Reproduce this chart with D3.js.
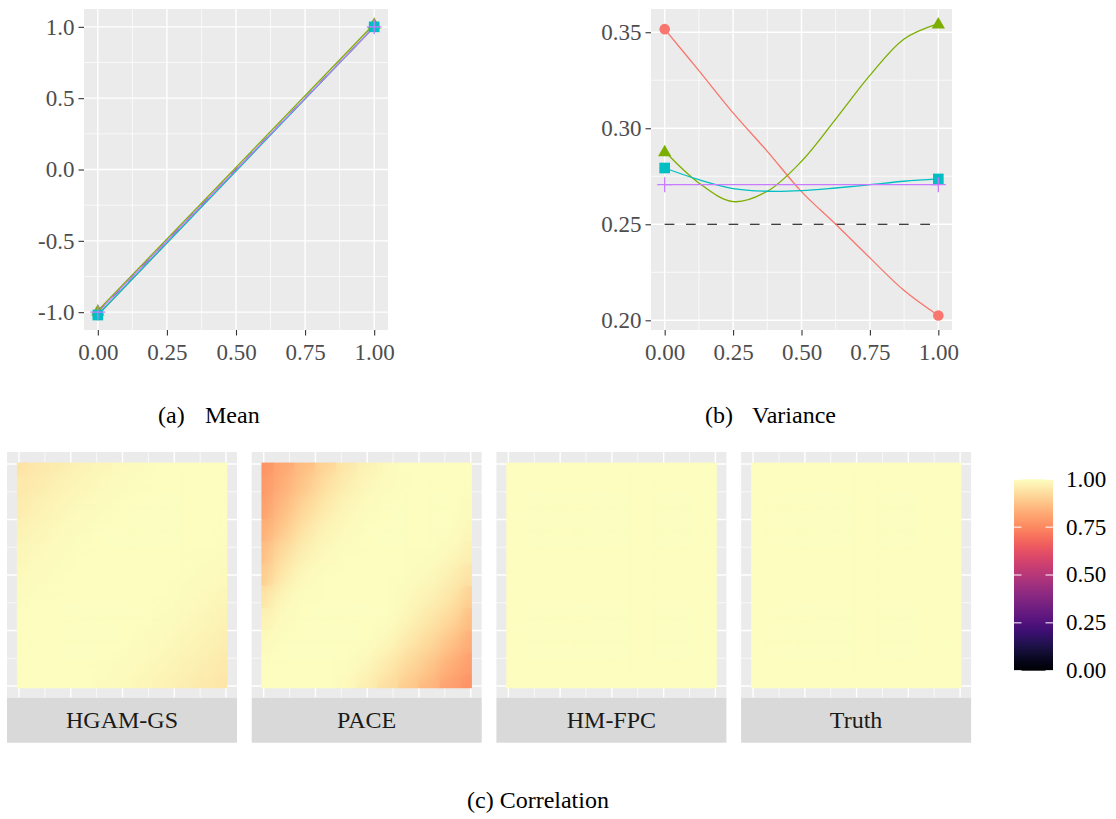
<!DOCTYPE html>
<html lang="en">
<head>
<meta charset="utf-8">
<title>Mean, variance and correlation</title>
<script src="https://cdn.jsdelivr.net/npm/d3@7"></script>
<style>
  body { margin: 0; background: #ffffff; }
</style>
</head>
<body>
<script>

// ---------- data ----------
var colours = ["#F8766D", "#7CAE00", "#00BFC4", "#C77CFF"];
var shapes = ["circle", "triangle", "square", "plus"];

// (a) mean
var meanT = [0, 1];
var meanRed = [-1.02, 1.00];
var meanGreen = [-0.99, 1.02];
var meanCyan = [-1.02, 1.00];
var meanPurple = [-1.00, 1.00];
var meanTruth = [-1.00, 1.00];

// (b) variance
var varT = [0, 0.125, 0.25, 0.375, 0.5, 0.625, 0.75, 0.875, 1];
var varRed = [0.3516, 0.330, 0.308, 0.288, 0.267, 0.250, 0.2325, 0.2155, 0.2025];
var varGreen = [0.288, 0.2715, 0.2618, 0.2672, 0.2828, 0.3048, 0.3275, 0.3465, 0.3545];
var varCyan = [0.2793, 0.2732, 0.2686, 0.2672, 0.2675, 0.2689, 0.2706, 0.2724, 0.2736];
var varPurple = [0.2706, 0.2706, 0.2706, 0.2706, 0.2706, 0.2706, 0.2706, 0.2706, 0.2706];
var varTruthT = [0, 1];
var varTruth = [0.25, 0.25];

// (c) correlation, rows from t = 1 (top) down to t = 0, columns s = 0 .. 1
var corrGrid = [0, 0.1, 0.2, 0.3, 0.4, 0.5, 0.6, 0.7, 0.8, 0.9, 1];
var corrHGAM = [
  [0.945, 0.955, 0.964, 0.973, 0.982, 0.990, 0.995, 1, 1, 1, 1],
  [0.955, 0.964, 0.973, 0.982, 0.990, 0.995, 1, 1, 1, 1, 1],
  [0.964, 0.973, 0.982, 0.990, 0.995, 1, 1, 1, 1, 1, 1],
  [0.973, 0.982, 0.990, 0.995, 1, 1, 1, 1, 1, 1, 1],
  [0.982, 0.990, 0.995, 1, 1, 1, 1, 1, 1, 1, 0.995],
  [0.990, 0.995, 1, 1, 1, 1, 1, 1, 1, 0.995, 0.990],
  [0.995, 1, 1, 1, 1, 1, 1, 1, 0.995, 0.990, 0.982],
  [1, 1, 1, 1, 1, 1, 1, 0.995, 0.990, 0.982, 0.975],
  [1, 1, 1, 1, 1, 1, 0.995, 0.990, 0.982, 0.975, 0.966],
  [1, 1, 1, 1, 1, 0.995, 0.990, 0.982, 0.975, 0.966, 0.957],
  [1, 1, 1, 1, 0.995, 0.990, 0.982, 0.975, 0.966, 0.957, 0.948]
];
var corrPACE = [
  [0.770, 0.815, 0.860, 0.910, 0.950, 0.975, 0.990, 1, 1, 1, 1],
  [0.785, 0.835, 0.885, 0.935, 0.968, 0.987, 0.995, 1, 1, 1, 1],
  [0.800, 0.860, 0.915, 0.960, 0.983, 0.993, 1, 1, 1, 1, 0.995],
  [0.830, 0.888, 0.948, 0.977, 0.990, 1, 1, 1, 1, 1, 0.985],
  [0.860, 0.930, 0.972, 0.990, 1, 1, 1, 1, 1, 0.990, 0.970],
  [0.890, 0.960, 0.990, 1, 1, 1, 1, 1, 0.990, 0.972, 0.945],
  [0.945, 0.985, 1, 1, 1, 1, 1, 0.990, 0.975, 0.950, 0.900],
  [0.975, 0.995, 1, 1, 1, 1, 1, 0.980, 0.952, 0.920, 0.860],
  [0.990, 1, 1, 1, 1, 1, 0.985, 0.956, 0.925, 0.875, 0.825],
  [1, 1, 1, 1, 1, 0.985, 0.960, 0.925, 0.885, 0.835, 0.795],
  [1, 1, 1, 1, 0.990, 0.965, 0.930, 0.890, 0.850, 0.800, 0.770]
];
var corrHMFPC = [
  [1, 1, 1, 1, 1, 1, 1, 1, 1, 1, 1], [1, 1, 1, 1, 1, 1, 1, 1, 1, 1, 1],
  [1, 1, 1, 1, 1, 1, 1, 1, 1, 1, 1], [1, 1, 1, 1, 1, 1, 1, 1, 1, 1, 1],
  [1, 1, 1, 1, 1, 1, 1, 1, 1, 1, 1], [1, 1, 1, 1, 1, 1, 1, 1, 1, 1, 1],
  [1, 1, 1, 1, 1, 1, 1, 1, 1, 1, 1], [1, 1, 1, 1, 1, 1, 1, 1, 1, 1, 1],
  [1, 1, 1, 1, 1, 1, 1, 1, 1, 1, 1], [1, 1, 1, 1, 1, 1, 1, 1, 1, 1, 1],
  [1, 1, 1, 1, 1, 1, 1, 1, 1, 1, 1]
];
var corrTruth = [
  [1, 1, 1, 1, 1, 1, 1, 1, 1, 1, 1], [1, 1, 1, 1, 1, 1, 1, 1, 1, 1, 1],
  [1, 1, 1, 1, 1, 1, 1, 1, 1, 1, 1], [1, 1, 1, 1, 1, 1, 1, 1, 1, 1, 1],
  [1, 1, 1, 1, 1, 1, 1, 1, 1, 1, 1], [1, 1, 1, 1, 1, 1, 1, 1, 1, 1, 1],
  [1, 1, 1, 1, 1, 1, 1, 1, 1, 1, 1], [1, 1, 1, 1, 1, 1, 1, 1, 1, 1, 1],
  [1, 1, 1, 1, 1, 1, 1, 1, 1, 1, 1], [1, 1, 1, 1, 1, 1, 1, 1, 1, 1, 1],
  [1, 1, 1, 1, 1, 1, 1, 1, 1, 1, 1]
];
var facetNames = ["HGAM-GS", "PACE", "HM-FPC", "Truth"];
var legendTicks = [0, 0.25, 0.5, 0.75, 1];

var xTicks = [0, 0.25, 0.5, 0.75, 1];
var xMinor = [0.125, 0.375, 0.625, 0.875];
var meanTicks = [-1, -0.5, 0, 0.5, 1];
var meanMinor = [-0.75, -0.25, 0.25, 0.75];
var varTicks = [0.20, 0.25, 0.30, 0.35];
var varMinor = [0.225, 0.275, 0.325];

// ---------- drawing ----------
var serif = "Liberation Serif";

var svg = d3.select("body").append("svg")
  .attr("width", 1116)
  .attr("height", 819);

var tickFont = 23;
var magma = d3.scaleSequential(d3.interpolateMagma).domain([0, 1]);

// ggplot prints a plain hyphen for negatives
function hyphen(fmt) {
  return function(v) { return fmt(v).replace("\u2212", "-"); };
}

function xyPanel(x0, x1, y0, y1, xdom, ydom, yMajor, yMinorTicks, yFmt) {
  var xs = d3.scaleLinear().domain(xdom).range([x0, x1]);
  var ys = d3.scaleLinear().domain(ydom).range([y1, y0]);
  var g = svg.append("g");

  g.append("rect")
    .attr("x", x0).attr("y", y0)
    .attr("width", x1 - x0).attr("height", y1 - y0)
    .attr("fill", "#EBEBEB");

  g.selectAll(".vminor").data(xMinor).enter().append("line")
    .attr("x1", xs).attr("x2", xs).attr("y1", y0).attr("y2", y1)
    .attr("stroke", "#fff").attr("stroke-width", 0.7);
  g.selectAll(".hminor").data(yMinorTicks).enter().append("line")
    .attr("y1", ys).attr("y2", ys).attr("x1", x0).attr("x2", x1)
    .attr("stroke", "#fff").attr("stroke-width", 0.7);
  g.selectAll(".vmajor").data(xTicks).enter().append("line")
    .attr("x1", xs).attr("x2", xs).attr("y1", y0).attr("y2", y1)
    .attr("stroke", "#fff").attr("stroke-width", 1.4);
  g.selectAll(".hmajor").data(yMajor).enter().append("line")
    .attr("y1", ys).attr("y2", ys).attr("x1", x0).attr("x2", x1)
    .attr("stroke", "#fff").attr("stroke-width", 1.4);

  var xAxis = d3.axisBottom(xs).tickValues(xTicks).tickFormat(d3.format(".2f"))
    .tickSize(5.5).tickPadding(8.5);
  var yAxis = d3.axisLeft(ys).tickValues(yMajor).tickFormat(hyphen(yFmt))
    .tickSize(5.5).tickPadding(4);

  var ax = g.append("g").attr("transform", "translate(0," + y1 + ")").call(xAxis);
  var ay = g.append("g").attr("transform", "translate(" + x0 + ",0)").call(yAxis);
  [ax, ay].forEach(function(a) {
    a.attr("font-family", null).attr("font-size", null);
    a.select(".domain").remove();
    a.selectAll("line").attr("stroke", "#333333").attr("stroke-width", 1.1);
    a.selectAll("text").attr("fill", "#4D4D4D")
      .attr("font-family", serif).attr("font-size", tickFont);
  });

  return { g: g, xs: xs, ys: ys };
}

function marker(g, shape, colour, x, y) {
  if (shape === "plus") {
    g.append("path")
      .attr("d", "M-7.5,0H7.5M0,-7.5V7.5")
      .attr("transform", "translate(" + x + "," + y + ")")
      .attr("stroke", colour).attr("stroke-width", 1.3).attr("fill", "none");
    return;
  }
  var type = shape === "circle" ? d3.symbolCircle : shape === "triangle" ? d3.symbolTriangle : d3.symbolSquare;
  var size = shape === "circle" ? 88 : shape === "triangle" ? 76 : 114;
  g.append("path")
    .attr("d", d3.symbol().type(type).size(size)())
    .attr("transform", "translate(" + x + "," + (shape === "triangle" ? y + 1 : y) + ")")
    .attr("fill", colour);
}

function drawSeries(p, tVals, yVals, colour, curve) {
  var pts = tVals.map(function(t, i) { return [t, yVals[i]]; });
  var line = d3.line()
    .x(function(d) { return p.xs(d[0]); })
    .y(function(d) { return p.ys(d[1]); })
    .curve(curve);
  p.g.append("path").datum(pts)
    .attr("d", line)
    .attr("fill", "none")
    .attr("stroke", colour)
    .attr("stroke-width", 1.3);
}

// ----- (a) mean -----
var pa = xyPanel(84, 388, 9, 330, [-0.05, 1.05], [-1.125, 1.125], meanTicks, meanMinor, d3.format(".1f"));
var truthLine = d3.line().x(function(d) { return pa.xs(d[0]); }).y(function(d) { return pa.ys(d[1]); });
pa.g.append("path").datum(meanT.map(function(t, i) { return [t, meanTruth[i]]; }))
  .attr("d", truthLine).attr("fill", "none").attr("stroke", "#000")
  .attr("stroke-width", 1.1).attr("stroke-dasharray", "9.7,11.6");
var meanSets = [meanRed, meanGreen, meanCyan, meanPurple];
meanSets.forEach(function(vals, k) {
  drawSeries(pa, meanT, vals, colours[k], d3.curveLinear);
});
meanSets.forEach(function(vals, k) {
  meanT.forEach(function(t, i) { marker(pa.g, shapes[k], colours[k], pa.xs(t), pa.ys(vals[i])); });
});

// ----- (b) variance -----
var pb = xyPanel(651, 952, 9, 330, [-0.05, 1.05], [0.19495, 0.3621], varTicks, varMinor, d3.format(".2f"));
var truthVar = d3.line().x(function(d) { return pb.xs(d[0]); }).y(function(d) { return pb.ys(d[1]); });
pb.g.append("path").datum(varTruthT.map(function(t, i) { return [t, varTruth[i]]; }))
  .attr("d", truthVar).attr("fill", "none").attr("stroke", "#000")
  .attr("stroke-width", 1.1).attr("stroke-dasharray", "9.7,11.6");
var varSets = [varRed, varGreen, varCyan, varPurple];
varSets.forEach(function(vals, k) {
  drawSeries(pb, varT, vals, colours[k], d3.curveCatmullRom.alpha(0.5));
});
varSets.forEach(function(vals, k) {
  var last = varT.length - 1;
  marker(pb.g, shapes[k], colours[k], pb.xs(varT[0]), pb.ys(vals[0]));
  marker(pb.g, shapes[k], colours[k], pb.xs(varT[last]), pb.ys(vals[last]));
});

// captions
function caption(x, y, str) {
  svg.append("text").attr("x", x).attr("y", y).text(str)
    .attr("fill", "#000")
    .attr("font-family", serif)
    .attr("font-size", 24);
}
caption(158, 423, "(a)");
caption(205, 423, "Mean");
caption(705, 423, "(b)");
caption(752, 423, "Variance");
caption(467, 808, "(c) Correlation");

// ----- (c) correlation heatmaps -----
var defs = svg.append("defs");
defs.append("filter").attr("id", "soft")
  .attr("x", "-10%").attr("y", "-10%").attr("width", "120%").attr("height", "120%")
  .append("feGaussianBlur").attr("stdDeviation", 8);

var corrSets = [corrHGAM, corrPACE, corrHMFPC, corrTruth];
var tRows = corrGrid.slice().reverse();
var half = 0.05, lo = -0.009, hi = 1.005;

corrSets.forEach(function(mat, i) {
  var left = 7 + i * 244.7;
  var top = 452, bottom = 697.7, width = 230;
  var xh = d3.scaleLinear().domain([0, 1]).range([left + 12, left + 219]);
  var yh = d3.scaleLinear().domain([0, 1]).range([686, 464]);
  var g = svg.append("g");

  g.append("rect").attr("x", left).attr("y", top)
    .attr("width", width).attr("height", bottom - top).attr("fill", "#EBEBEB");
  [[xMinor, 0.7], [xTicks, 1.4]].forEach(function(set) {
    g.selectAll(null).data(set[0]).enter().append("line")
      .attr("x1", xh).attr("x2", xh).attr("y1", top).attr("y2", bottom)
      .attr("stroke", "#fff").attr("stroke-width", set[1]);
    g.selectAll(null).data(set[0]).enter().append("line")
      .attr("y1", yh).attr("y2", yh).attr("x1", left).attr("x2", left + width)
      .attr("stroke", "#fff").attr("stroke-width", set[1]);
  });

  var cells = [];
  mat.forEach(function(row, r) {
    row.forEach(function(v, c) { cells.push({ s: corrGrid[c], t: tRows[r], v: v }); });
  });

  function tiles(sel) {
    sel.selectAll("rect").data(cells).enter().append("rect")
      .attr("x", function(d) { return xh(Math.max(d.s - half, lo)); })
      .attr("width", function(d) { return xh(Math.min(d.s + half, hi)) - xh(Math.max(d.s - half, lo)); })
      .attr("y", function(d) { return yh(Math.min(d.t + half, hi)); })
      .attr("height", function(d) { return yh(Math.max(d.t - half, lo)) - yh(Math.min(d.t + half, hi)); })
      .attr("fill", function(d) { return magma(d.v); })
      .attr("stroke", function(d) { return magma(d.v); })
      .attr("stroke-width", 0.5);
  }

  tiles(g.append("g"));

  var clipId = "clip" + i;
  defs.append("clipPath").attr("id", clipId).append("rect")
    .attr("x", xh(lo)).attr("y", yh(hi))
    .attr("width", xh(hi) - xh(lo)).attr("height", yh(lo) - yh(hi));
  var soft = g.append("g").attr("clip-path", "url(#" + clipId + ")")
    .append("g").attr("filter", "url(#soft)");
  tiles(soft);

  // strip
  g.append("rect").attr("x", left).attr("y", bottom)
    .attr("width", width).attr("height", 45).attr("fill", "#D9D9D9");
  g.append("text").attr("x", left + width / 2).attr("y", 728)
    .attr("text-anchor", "middle").attr("fill", "#1A1A1A")
    .attr("font-family", serif).attr("font-size", 24)
    .text(facetNames[i]);
});

// colour bar legend
var legY = d3.scaleLinear().domain([0, 1]).range([670.7, 479.3]);
var grad = defs.append("linearGradient").attr("id", "magmaBar")
  .attr("x1", 0).attr("y1", 1).attr("x2", 0).attr("y2", 0);
d3.range(0, 1.0001, 0.05).forEach(function(v) {
  grad.append("stop").attr("offset", v).attr("stop-color", magma(v));
});
svg.append("rect")
  .attr("x", 1014).attr("y", legY(1))
  .attr("width", 39).attr("height", legY(0) - legY(1))
  .attr("fill", "url(#magmaBar)");
var lg = svg.append("g");
lg.selectAll(".lt1").data(legendTicks).enter().append("line")
  .attr("x1", 1014).attr("x2", 1021.5).attr("y1", legY).attr("y2", legY)
  .attr("stroke", "#fff").attr("stroke-width", 1);
lg.selectAll(".lt2").data(legendTicks).enter().append("line")
  .attr("x1", 1045.5).attr("x2", 1053).attr("y1", legY).attr("y2", legY)
  .attr("stroke", "#fff").attr("stroke-width", 1);
lg.selectAll("text").data(legendTicks).enter().append("text")
  .attr("x", 1066).attr("y", function(d) { return legY(d); })
  .attr("dy", "0.32em").attr("fill", "#000")
  .attr("font-family", serif).attr("font-size", tickFont)
  .text(d3.format(".2f"));

// force a layout pass so the serif face is resolved before the snapshot
svg.selectAll("text").each(function() { this.getComputedTextLength(); });

</script>
</body>
</html>
